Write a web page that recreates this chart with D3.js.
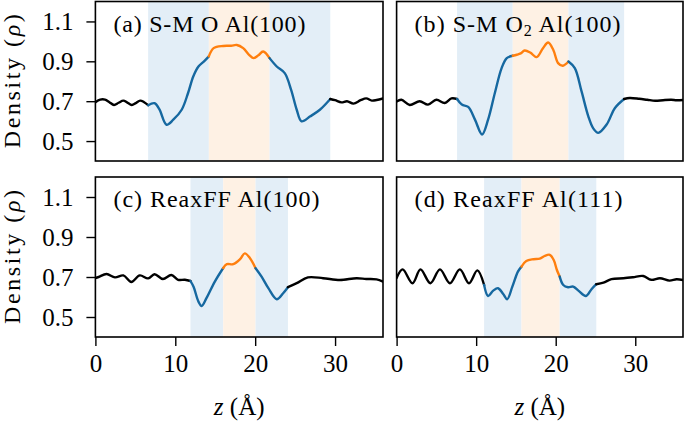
<!DOCTYPE html>
<html><head><meta charset="utf-8">
<script src="https://cdn.jsdelivr.net/npm/d3@7"></script>
<style>body{margin:0;background:#fff}</style>
</head><body>
<svg id="c" width="685" height="425" xmlns="http://www.w3.org/2000/svg"></svg>
<script>
// ---- data ----
const xTicks = [0, 10, 20, 30];
const yTicks = [0.5, 0.7, 0.9, 1.1];
const yTickLabels = ["0.5", "0.7", "0.9", "1.1"];
const xTickLabels = ["0", "10", "20", "30"];

const zA = [0.0,0.6,1.2,1.75,2.33,2.9,3.5,4.0,4.55,5.05,5.6,6.1,6.6,7.4,8.0,8.9,9.75,10.8,11.6,12.25,12.9,13.6,14.2,14.8,16.0,17.0,17.7,18.5,19.3,19.8,20.4,21.0,21.8,22.7,23.7,24.5,25.2,25.8,26.9,28.1,29.4,30.0,30.8,31.5,32.3,33.2,33.9,34.6,35.2,36.0];
const rhoA = [0.695,0.708,0.708,0.695,0.681,0.692,0.703,0.693,0.681,0.69,0.703,0.695,0.680,0.690,0.660,0.582,0.607,0.657,0.741,0.824,0.874,0.900,0.925,0.966,0.977,0.978,0.982,0.966,0.930,0.916,0.930,0.949,0.916,0.874,0.841,0.757,0.657,0.599,0.624,0.657,0.711,0.705,0.694,0.700,0.688,0.705,0.714,0.703,0.706,0.714];
const regionsA = [6.6, 14.2, 21.8, 29.4];

const zB = [0.0,0.6,1.65,2.9,3.95,5.0,6.05,6.9,7.6,8.2,9.0,9.85,10.75,11.5,12.35,13.2,13.85,14.6,15.1,15.6,16.1,16.8,17.6,18.4,19.05,19.7,20.3,20.9,21.6,22.4,23.25,24.1,24.7,25.35,26.4,27.45,28.6,29.3,30.5,31.5,32.5,33.5,34.5,35.2,36.0];
const rhoB = [0.698,0.707,0.681,0.700,0.683,0.707,0.691,0.714,0.711,0.683,0.671,0.6075,0.533,0.607,0.741,0.866,0.916,0.928,0.933,0.940,0.954,0.944,0.921,0.966,0.994,0.957,0.891,0.878,0.899,0.866,0.749,0.624,0.565,0.541,0.583,0.666,0.711,0.716,0.712,0.707,0.702,0.705,0.707,0.705,0.706];
const regionsB = [7.6, 14.6, 21.6, 28.6];

const zC = [0.0,0.4,1.4,2.45,3.5,4.5,5.55,6.6,7.4,8.45,9.5,10.35,11.2,11.9,12.3,12.9,13.3,13.9,14.95,16.0,16.45,17.25,18.1,18.7,19.35,20.05,20.8,21.65,22.7,23.5,24.1,25.2,26.6,28.5,30.6,32.7,33.9,35.2,36.0];
const rhoC = [0.695,0.700,0.715,0.698,0.708,0.675,0.708,0.693,0.714,0.690,0.710,0.686,0.686,0.680,0.650,0.577,0.555,0.594,0.677,0.745,0.764,0.764,0.789,0.818,0.794,0.744,0.702,0.644,0.589,0.619,0.649,0.669,0.698,0.694,0.685,0.694,0.690,0.688,0.677];
const regionsC = [11.9, 16.0, 20.05, 24.1];

const zD = [0.0,0.76,2.0,3.0,4.25,5.45,6.7,7.95,9.1,10.15,11.0,11.5,12.15,12.75,13.4,13.9,14.55,15.25,15.7,16.3,17.2,18.0,18.6,19.25,19.75,20.15,20.5,20.95,21.55,22.2,22.85,23.8,24.5,25.1,26.0,27.0,28.5,29.7,31.0,32.0,33.1,34.3,35.2,36.0];
const rhoD = [0.695,0.738,0.669,0.738,0.669,0.738,0.669,0.738,0.669,0.733,0.660,0.605,0.632,0.644,0.615,0.589,0.652,0.727,0.752,0.780,0.789,0.792,0.805,0.811,0.785,0.735,0.702,0.660,0.649,0.652,0.632,0.605,0.639,0.664,0.672,0.689,0.694,0.699,0.705,0.686,0.694,0.682,0.689,0.685];
const regionsD = [11.0, 15.7, 20.5, 25.1];

const labels = [
  [["(a) S-M O Al(100)", null]],
  [["(b) S-M O", null], ["2", "sub"], [" Al(100)", null]],
  [["(c) ReaxFF Al(100)", null]],
  [["(d) ReaxFF Al(111)", null]]
];
const labelLengths = [192, 206, 206, 208];

// ---- layout ----
const svg = d3.select("#c");
const FONT = "'Liberation Serif', 'Times New Roman', serif";
const cols = [[95.4, 383], [396.6, 683]];
const rows = [[1.5, 161], [177, 337]];
const panels = [
  {z: zA, r: rhoA, reg: regionsA, lab: labels[0], len: labelLengths[0], col: 0, row: 0},
  {z: zB, r: rhoB, reg: regionsB, lab: labels[1], len: labelLengths[1], col: 1, row: 0},
  {z: zC, r: rhoC, reg: regionsC, lab: labels[2], len: labelLengths[2], col: 0, row: 1},
  {z: zD, r: rhoD, reg: regionsD, lab: labels[3], len: labelLengths[3], col: 1, row: 1}
];
const blueLine = "#1668a0", orangeLine = "#ff7f0e";
const blueBand = "#e3eef7", orangeBand = "#fef1e4";

panels.forEach((p, i) => {
  const [x0, x1] = cols[p.col];
  const [y0, y1] = rows[p.row];
  const x = d3.scaleLinear().domain([0, 36]).range([x0, x1]);
  const y = d3.scaleLinear().domain([0.4, 1.2]).range([y1, y0]);
  const g = svg.append("g");
  const clipId = "clip" + i;
  svg.append("clipPath").attr("id", clipId).append("rect")
    .attr("x", x0).attr("y", y0).attr("width", x1 - x0).attr("height", y1 - y0);
  const inner = g.append("g").attr("clip-path", `url(#${clipId})`);
  // bands
  const bands = [[p.reg[0], p.reg[1], blueBand], [p.reg[1], p.reg[2], orangeBand], [p.reg[2], p.reg[3], blueBand]];
  bands.forEach(b => {
    inner.append("rect").attr("x", x(b[0])).attr("y", y0).attr("width", x(b[1]) - x(b[0])).attr("height", y1 - y0).attr("fill", b[2]);
  });
  // line segments
  const pts = p.z.map((zz, k) => [zz, p.r[k]]);
  const segs = [[-1, p.reg[0], "#000"], [p.reg[0], p.reg[1], blueLine], [p.reg[1], p.reg[2], orangeLine], [p.reg[2], p.reg[3], blueLine], [p.reg[3], 99, "#000"]];
  const line = d3.line().x(d => x(d[0])).y(d => y(d[1])).curve(d3.curveCatmullRom.alpha(0.5));
  segs.forEach(s => {
    const sp = pts.filter(d => d[0] >= s[0] - 1e-9 && d[0] <= s[1] + 1e-9);
    inner.append("path").attr("d", line(sp)).attr("fill", "none").attr("stroke", s[2])
      .attr("stroke-width", 2.4).attr("stroke-linecap", "round").attr("stroke-linejoin", "round");
  });
  // frame
  g.append("rect").attr("x", x0).attr("y", y0).attr("width", x1 - x0).attr("height", y1 - y0)
    .attr("fill", "none").attr("stroke", "#000").attr("stroke-width", 1.6);
  // y axis
  if (p.col === 0) {
    const ax = g.append("g").attr("transform", `translate(${x0},0)`)
      .call(d3.axisLeft(y).tickValues(yTicks).tickSize(9).tickPadding(13).tickFormat((d, k) => yTickLabels[k]));
    ax.select(".domain").remove();
    ax.selectAll("line").attr("stroke-width", 1.4);
    ax.selectAll("text").attr("font-family", FONT).attr("font-size", 25).attr("fill", "#000");
    const yl = svg.append("text").attr("transform", `translate(20,${(y0 + y1) / 2}) rotate(-90)`)
      .attr("text-anchor", "middle").attr("font-family", FONT).attr("font-size", 24)
      .attr("textLength", 134).attr("lengthAdjust", "spacing");
    yl.append("tspan").text("Density (");
    yl.append("tspan").attr("font-style", "italic").text("ρ");
    yl.append("tspan").text(")");
  }
  // x axis
  if (p.row === 1) {
    const ax = g.append("g").attr("transform", `translate(0,${y1})`)
      .call(d3.axisBottom(x).tickValues(xTicks).tickSize(9).tickPadding(8).tickFormat((d, k) => xTickLabels[k]));
    ax.select(".domain").remove();
    ax.selectAll("line").attr("stroke-width", 1.4);
    ax.selectAll("text").attr("font-family", FONT).attr("font-size", 25).attr("fill", "#000");
    const t = svg.append("text").attr("x", (x0 + x1) / 2).attr("y", 415)
      .attr("text-anchor", "middle").attr("font-family", FONT).attr("font-size", 25);
    t.append("tspan").attr("font-style", "italic").text("z");
    t.append("tspan").text(" (Å)");
  }
  // panel label
  const lt = g.append("text").attr("x", x0 + 18).attr("y", y0 + 30)
    .attr("font-family", FONT).attr("font-size", 24).attr("fill", "#000")
    .attr("textLength", p.len).attr("lengthAdjust", "spacing");
  p.lab.forEach(part => {
    if (part[1] === "sub") {
      lt.append("tspan").attr("font-size", 16).attr("dy", 4).text(part[0]);
    } else {
      const ts = lt.append("tspan").text(part[0]);
      if (lt.selectAll("tspan").size() > 1) ts.attr("dy", -4);
    }
  });
});
</script>
</body></html>
